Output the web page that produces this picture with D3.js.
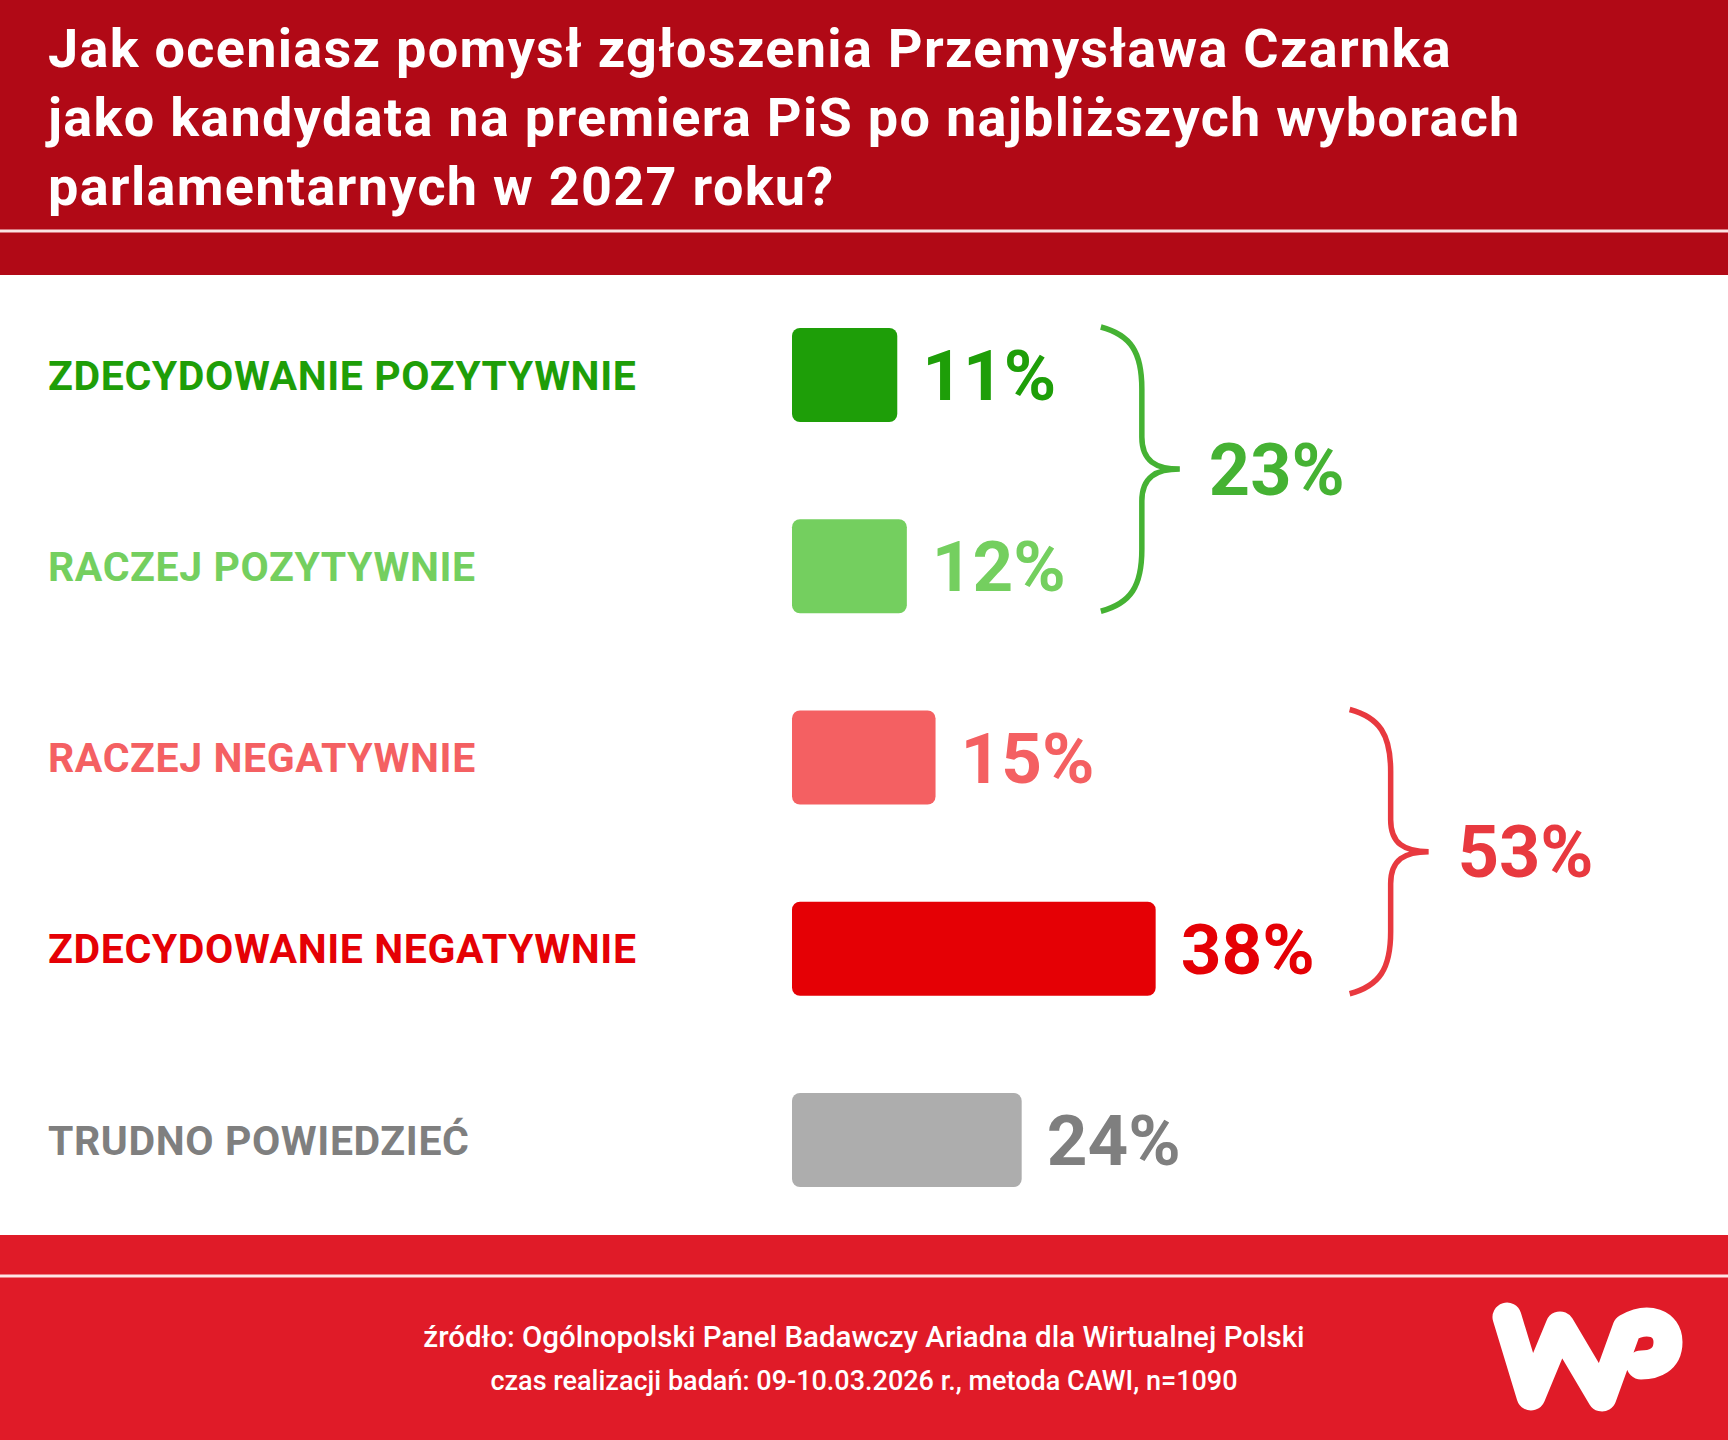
<!DOCTYPE html>
<html>
<head>
  <meta charset="utf-8">
  <title>Czarnek jako kandydat na premiera</title>
  <script src="https://cdn.jsdelivr.net/npm/d3@7"></script>
  <style>
    body { margin: 0; background: #fff; }
    svg { display: block; font-family: Roboto, "Noto Sans", sans-serif; }
  </style>
</head>
<body>
<div id="chart"></div>
<script>
// --- data ---
var titleLines = [
  "Jak oceniasz pomysł zgłoszenia Przemysława Czarnka",
  "jako kandydata na premiera PiS po najbliższych wyborach",
  "parlamentarnych w 2027 roku?"
];
var categories = ["ZDECYDOWANIE POZYTYWNIE", "RACZEJ POZYTYWNIE", "RACZEJ NEGATYWNIE", "ZDECYDOWANIE NEGATYWNIE", "TRUDNO POWIEDZIEĆ"];
var values = [11, 12, 15, 38, 24];
var barColors = ["#1e9e08", "#74cf5f", "#f46062", "#e50005", "#adadad"];
var textColors = ["#1e9e08", "#74cf5f", "#f46062", "#e50005", "#7f7f7f"];
var groupFrom = [0, 2];
var groupTo = [1, 3];
var groupTotals = [23, 53];
var groupColors = ["#45b233", "#e8393f"];
var sourceLines = [
  "źródło: Ogólnopolski Panel Badawczy Ariadna dla Wirtualnej Polski",
  "czas realizacji badań: 09-10.03.2026 r., metoda CAWI, n=1090"
];

var W = 1728, H = 1440;
var svg = d3.select("#chart").append("svg").attr("width", W).attr("height", H);

// header
svg.append("rect").attr("x", 0).attr("y", 0).attr("width", W).attr("height", 275).attr("fill", "#b10916");
svg.append("rect").attr("x", 0).attr("y", 229.5).attr("width", W).attr("height", 3).attr("fill", "#fbe3e3");

svg.selectAll(".title").data(titleLines).enter().append("text")
  .attr("x", 48)
  .attr("y", function(d, i) { return 67 + i * 69; })
  .attr("fill", "#fff")
  .style("font-size", "54px")
  .style("font-weight", 700)
  .style("letter-spacing", "1.3px")
  .text(function(d) { return d; });

// scales
var x = d3.scaleLinear().domain([0, 100]).range([792, 792 + 957]);
var y = d3.scaleBand().domain(categories).range([328, 1187]).paddingInner(0.5085).paddingOuter(0);
var bw = y.bandwidth();

// category labels
svg.selectAll(".cat").data(categories).enter().append("text")
  .attr("x", 48)
  .attr("y", function(d) { return y(d) + bw / 2 + 0.3555 * 41; })
  .attr("fill", function(d, i) { return textColors[i]; })
  .style("font-size", "41px")
  .style("font-weight", 700)
  .style("letter-spacing", "0.6px")
  .text(function(d) { return d; });

// bars
svg.selectAll(".bar").data(values).enter().append("rect")
  .attr("x", x(0))
  .attr("y", function(d, i) { return y(categories[i]); })
  .attr("width", function(d) { return x(d) - x(0); })
  .attr("height", bw)
  .attr("rx", 8)
  .attr("fill", function(d, i) { return barColors[i]; });

// value labels
svg.selectAll(".val").data(values).enter().append("text")
  .attr("x", function(d) { return x(d) + 25; })
  .attr("y", function(d, i) { return y(categories[i]) + bw / 2 + 0.3555 * 71; })
  .attr("fill", function(d, i) { return textColors[i]; })
  .style("font-size", "71px")
  .style("font-weight", 700)
  .text(function(d) { return d + "%"; });

// braces with group totals
groupTotals.forEach(function(total, g) {
  var top = y(categories[groupFrom[g]]) - 1;
  var bot = y(categories[groupTo[g]]) + bw - 2;
  var mid = (top + bot) / 2;
  var maxV = d3.max(values.slice(groupFrom[g], groupTo[g] + 1));
  var x0 = x(maxV) + 194, xs = x0 + 41, xt = x0 + 79;
  var p = d3.path();
  p.moveTo(x0, top);
  p.bezierCurveTo(x0 + 30, top + 8, xs, top + 25, xs, top + 62);
  p.lineTo(xs, mid - 32);
  p.bezierCurveTo(xs, mid - 8, xs + 14, mid, xt, mid);
  p.bezierCurveTo(xs + 14, mid, xs, mid + 8, xs, mid + 32);
  p.lineTo(xs, bot - 62);
  p.bezierCurveTo(xs, bot - 25, x0 + 30, bot - 8, x0, bot);
  svg.append("path").attr("d", p.toString())
    .attr("fill", "none").attr("stroke", groupColors[g]).attr("stroke-width", 5.5);
  svg.append("text")
    .attr("x", xt + 29)
    .attr("y", mid + 0.3555 * 72)
    .attr("fill", groupColors[g])
    .style("font-size", "72px")
    .style("font-weight", 700)
    .text(total + "%");
});

// footer
svg.append("rect").attr("x", 0).attr("y", 1235).attr("width", W).attr("height", H - 1235).attr("fill", "#e01b28");
svg.append("rect").attr("x", 0).attr("y", 1274.5).attr("width", W).attr("height", 3).attr("fill", "#fde6e6");

var sourceSizes = [29.5, 27];
svg.selectAll(".src").data(sourceLines).enter().append("text")
  .attr("x", 864)
  .attr("y", function(d, i) { return 1347 + i * 43; })
  .attr("text-anchor", "middle")
  .attr("fill", "#fff")
  .style("font-size", function(d, i) { return sourceSizes[i] + "px"; })
  .style("font-weight", 500)
  .text(function(d) { return d; });

// WP logo
svg.append("path")
  .attr("d", "M1507,1317 L1531,1396 L1560,1326 L1602,1397 L1627,1328 C1648,1316 1668,1323 1668,1342 C1668,1360 1654,1365 1641,1365")
  .attr("fill", "none").attr("stroke", "#fff").attr("stroke-width", 29)
  .attr("stroke-linecap", "round").attr("stroke-linejoin", "round");
</script>
</body>
</html>
